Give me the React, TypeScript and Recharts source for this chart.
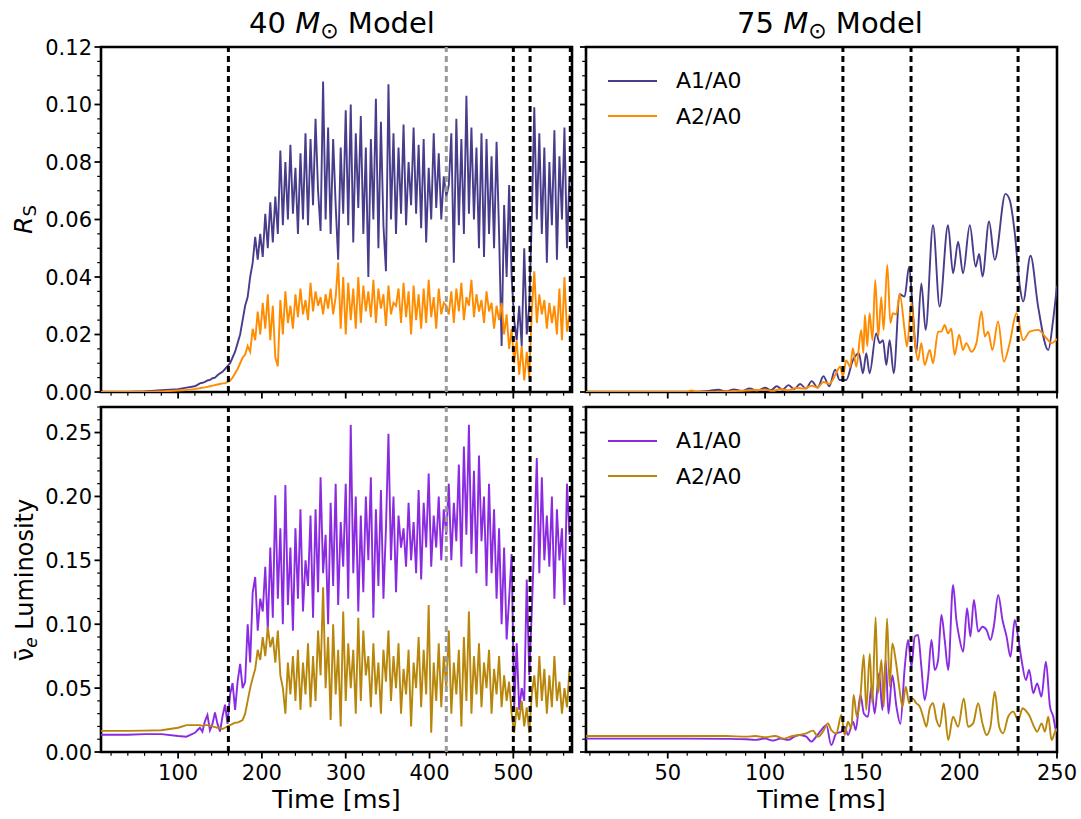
import { LineChart, Line, XAxis, YAxis, ReferenceLine, ReferenceArea, Legend } from "recharts";

const FONT = "'DejaVu Sans', sans-serif";

const BLUE = "#483D8B";
const ORANGE = "#FF8C00";
const PURPLE = "#8A2BE2";
const GOLD = "#B8860B";

// 40 Msun model: sampled at these times (ms)
const T40 = [8, 20, 40, 60, 80, 100, 110, 120, ...Array.from({ length: 149 }, (_, i) => 123 + 3 * i)];

const RS_A1_40 = [
  0, 0, 0, 0.0002, 0.0006, 0.001, 0.0015, 0.002,
  0.0025, 0.003, 0.0032, 0.0035, 0.004, 0.0042, 0.0048, 0.005, 0.0058, 0.0065,
  0.007, 0.008, 0.009, 0.010, 0.012, 0.014, 0.017, 0.020, 0.025, 0.030,
  0.033, 0.040, 0.045, 0.054, 0.046, 0.055, 0.047, 0.062, 0.050, 0.066,
  0.052, 0.068, 0.055, 0.084, 0.058, 0.080, 0.060, 0.086, 0.062, 0.078,
  0.055, 0.083, 0.060, 0.090, 0.058, 0.088, 0.065, 0.095, 0.070, 0.056,
  0.108, 0.060, 0.092, 0.055, 0.088, 0.065, 0.046, 0.085, 0.062, 0.098,
  0.058, 0.100, 0.052, 0.090, 0.064, 0.096, 0.055, 0.085, 0.040, 0.088,
  0.060, 0.102, 0.050, 0.094, 0.058, 0.042, 0.107, 0.060, 0.090, 0.055,
  0.085, 0.062, 0.093, 0.058, 0.080, 0.065, 0.092, 0.062, 0.086, 0.057,
  0.088, 0.052, 0.078, 0.060, 0.090, 0.064, 0.083, 0.060, 0.075, 0.068,
  0.072, 0.090, 0.045, 0.095, 0.058, 0.088, 0.055, 0.103, 0.062, 0.092,
  0.060, 0.085, 0.050, 0.090, 0.047, 0.088, 0.055, 0.082, 0.050, 0.087,
  0.055, 0.016, 0.065, 0.040, 0.072, 0.040, 0.025, 0.018, 0.030, 0.016,
  0.050, 0.020, 0.030, 0.060, 0.099, 0.060, 0.090, 0.055, 0.085, 0.045,
  0.080, 0.058, 0.091, 0.046, 0.082, 0.060, 0.092, 0.050, 0.075,
];

const RS_A2_40 = [
  0, 0, 0, 0, 0.0002, 0.0005, 0.0007, 0.001,
  0.0012, 0.0013, 0.0015, 0.0016, 0.0018, 0.002, 0.0022, 0.0024, 0.0026, 0.0028,
  0.003, 0.003, 0.0035, 0.004, 0.005, 0.0065, 0.008, 0.010, 0.012, 0.013,
  0.016, 0.014, 0.022, 0.018, 0.028, 0.020, 0.031, 0.022, 0.034, 0.018,
  0.030, 0.012, 0.009, 0.032, 0.020, 0.035, 0.024, 0.030, 0.022, 0.034,
  0.026, 0.036, 0.027, 0.032, 0.025, 0.038, 0.028, 0.035, 0.030, 0.033,
  0.027, 0.034, 0.029, 0.036, 0.027, 0.033, 0.045, 0.022, 0.040, 0.020,
  0.038, 0.025, 0.036, 0.022, 0.040, 0.024, 0.037, 0.028, 0.035, 0.026,
  0.039, 0.024, 0.036, 0.029, 0.034, 0.023, 0.037, 0.027, 0.031, 0.030,
  0.036, 0.024, 0.038, 0.026, 0.035, 0.020, 0.037, 0.025, 0.034, 0.022,
  0.036, 0.024, 0.039, 0.026, 0.033, 0.022, 0.036, 0.027, 0.031, 0.030,
  0.027, 0.035, 0.024, 0.036, 0.028, 0.038, 0.025, 0.033, 0.030, 0.039,
  0.026, 0.034, 0.028, 0.032, 0.024, 0.035, 0.028, 0.031, 0.022, 0.030,
  0.025, 0.031, 0.020, 0.027, 0.015, 0.022, 0.010, 0.018, 0.006, 0.016,
  0.004, 0.014, 0.005, 0.028, 0.042, 0.024, 0.034, 0.027, 0.032, 0.022,
  0.031, 0.024, 0.030, 0.020, 0.036, 0.018, 0.040, 0.021, 0.027,
];

const LUM_A1_40 = [
  0.0135, 0.0135, 0.0135, 0.014, 0.014, 0.0125, 0.012, 0.015,
  0.017, 0.019, 0.016, 0.024, 0.029, 0.017, 0.022, 0.031, 0.022, 0.016,
  0.028, 0.037, 0.022, 0.045, 0.054, 0.033, 0.055, 0.069, 0.050, 0.055,
  0.100, 0.070, 0.125, 0.137, 0.095, 0.120, 0.110, 0.145, 0.095, 0.160,
  0.105, 0.201, 0.120, 0.175, 0.100, 0.209, 0.115, 0.160, 0.095, 0.175,
  0.120, 0.190, 0.110, 0.150, 0.130, 0.185, 0.105, 0.190, 0.125, 0.215,
  0.140, 0.170, 0.100, 0.195, 0.130, 0.210, 0.115, 0.180, 0.145, 0.210,
  0.120, 0.256, 0.140, 0.200, 0.110, 0.185, 0.125, 0.200, 0.150, 0.215,
  0.105, 0.190, 0.130, 0.205, 0.120, 0.175, 0.249, 0.150, 0.200, 0.125,
  0.185, 0.160, 0.175, 0.145, 0.195, 0.150, 0.180, 0.140, 0.205, 0.135,
  0.195, 0.160, 0.218, 0.145, 0.185, 0.160, 0.200, 0.150, 0.190, 0.170,
  0.210, 0.150, 0.195, 0.165, 0.225, 0.145, 0.239, 0.170, 0.256, 0.155,
  0.220, 0.140, 0.232, 0.165, 0.200, 0.130, 0.210, 0.140, 0.190, 0.120,
  0.175, 0.100, 0.160, 0.088, 0.120, 0.155, 0.033, 0.085, 0.033, 0.050,
  0.040, 0.135, 0.060, 0.110, 0.165, 0.230, 0.140, 0.215, 0.150, 0.185,
  0.145, 0.200, 0.120, 0.190, 0.150, 0.175, 0.115, 0.210, 0.170,
];

const LUM_A2_40 = [
  0.0165, 0.0165, 0.0165, 0.0167, 0.017, 0.019, 0.021, 0.021,
  0.021, 0.021, 0.0205, 0.021, 0.021, 0.0205, 0.020, 0.0195, 0.019, 0.019,
  0.018, 0.019, 0.020, 0.021, 0.022, 0.023, 0.023, 0.024, 0.025, 0.030,
  0.040, 0.050, 0.058, 0.065, 0.080, 0.072, 0.090, 0.075, 0.098, 0.082,
  0.090, 0.070, 0.095, 0.060, 0.050, 0.030, 0.070, 0.045, 0.075, 0.040,
  0.080, 0.033, 0.070, 0.045, 0.085, 0.035, 0.075, 0.040, 0.095, 0.060,
  0.129, 0.050, 0.090, 0.025, 0.100, 0.045, 0.080, 0.020, 0.110, 0.040,
  0.085, 0.050, 0.080, 0.030, 0.105, 0.040, 0.095, 0.060, 0.075, 0.035,
  0.085, 0.045, 0.070, 0.030, 0.080, 0.055, 0.095, 0.040, 0.075, 0.050,
  0.085, 0.030, 0.065, 0.045, 0.080, 0.020, 0.070, 0.050, 0.090, 0.035,
  0.080, 0.045, 0.115, 0.015, 0.070, 0.040, 0.085, 0.035, 0.075, 0.050,
  0.095, 0.030, 0.070, 0.045, 0.080, 0.020, 0.090, 0.040, 0.110, 0.030,
  0.075, 0.045, 0.085, 0.035, 0.070, 0.050, 0.080, 0.030, 0.065, 0.045,
  0.075, 0.035, 0.060, 0.040, 0.055, 0.030, 0.015, 0.035, 0.025, 0.040,
  0.020, 0.035, 0.015, 0.045, 0.060, 0.035, 0.075, 0.040, 0.065, 0.030,
  0.060, 0.035, 0.075, 0.040, 0.055, 0.030, 0.050, 0.035, 0.065,
];

// 75 Msun model: [time ms, value]
const RS_A1_75: [number, number][] = [
  [8, 0], [60, 0], [70, 0.0003], [76, 0.0008], [80, 0.0002], [84, 0.0009], [88, 0.0003], [92, 0.0012],
  [96, 0.0004], [100, 0.0015], [103, 0.0006], [106, 0.002], [109, 0.0008], [112, 0.0024], [115, 0.001],
  [118, 0.0028], [121, 0.0012], [124, 0.0038], [127, 0.0015], [130, 0.0055], [133, 0.002], [136, 0.0078],
  [138.3, 0.0042], [141.7, 0.0042], [145.1, 0.011], [148.2, 0.0135], [150.3, 0.0065], [152, 0.0135],
  [153.7, 0.0065], [157.1, 0.0204], [158.9, 0.017], [160.6, 0.018], [162.3, 0.0094], [164, 0.018],
  [166.1, 0.0065], [169.2, 0.034], [171.7, 0.0332], [174, 0.0436], [176, 0.0274], [177.7, 0.0135],
  [180.3, 0.0378], [182.5, 0.0216], [186.3, 0.058], [189.7, 0.0297], [194, 0.058], [196.6, 0.0413],
  [199.2, 0.0523], [201.7, 0.0413], [205.2, 0.058], [208.2, 0.0436], [210, 0.048], [211.7, 0.0402],
  [215.1, 0.0593], [218, 0.046], [223.5, 0.0689], [225.7, 0.0668], [228.3, 0.0553], [230.9, 0.0367],
  [232.6, 0.0315], [236.4, 0.0474], [240.3, 0.0297], [245.5, 0.0146], [248, 0.025], [250, 0.037],
];

const RS_A2_75: [number, number][] = [
  [8, 0], [60, 0], [62, 0.0005], [66, 0], [80, 0.0002], [90, 0.0005], [100, 0.0008], [104, 0.0004],
  [108, 0.001], [112, 0.0006], [116, 0.0014], [120, 0.0012], [124, 0.0022], [127, 0.0015], [130, 0.0035],
  [133, 0.0028], [136, 0.0058], [138.6, 0.0088], [140, 0.0054], [141.7, 0.011], [143.8, 0.0088],
  [145.1, 0.0152], [146.9, 0.0088], [149.4, 0.0216], [150.5, 0.0135], [151.3, 0.0268], [152.5, 0.016],
  [153.7, 0.0274], [155.2, 0.018], [156.6, 0.039], [158.2, 0.0193], [159.7, 0.033], [160.9, 0.0216],
  [162.8, 0.0442], [164.4, 0.024], [165.7, 0.0274], [167.4, 0.027], [169.2, 0.034], [171.7, 0.0216],
  [172.9, 0.0158], [175.2, 0.031], [176.9, 0.018], [178.6, 0.011], [180.3, 0.017], [182, 0.0094],
  [184.6, 0.0146], [186.3, 0.01], [188.9, 0.021], [190.6, 0.021], [192.3, 0.0233], [194, 0.0204],
  [195.7, 0.022], [197.4, 0.0129], [199.7, 0.0199], [201.7, 0.0146], [203.4, 0.017], [206, 0.014],
  [208.6, 0.017], [211.2, 0.028], [212.9, 0.0193], [214.6, 0.021], [216.8, 0.0146], [219.7, 0.0245],
  [222.7, 0.0106], [225.7, 0.017], [229.2, 0.0274], [232.6, 0.018], [236, 0.021], [240.3, 0.0216],
  [244.6, 0.0187], [247.2, 0.017], [250, 0.0185],
];

const LUM_A1_75: [number, number][] = [
  [8, 0.0105], [60, 0.0105], [80, 0.0103], [90, 0.01], [95, 0.0095], [100, 0.0105], [104, 0.009],
  [108, 0.0105], [112, 0.0095], [115, 0.012], [117.75, 0.0133], [121.2, 0.012], [123.75, 0.0081],
  [126.3, 0.012], [128.9, 0.0172], [131.5, 0.021], [134, 0.0054], [136.6, 0.0146], [139.2, 0.0159],
  [140.9, 0.0198], [142.6, 0.0133], [145.2, 0.0237], [146.6, 0.0172], [149, 0.0446], [150.8, 0.03],
  [152.9, 0.0276], [154.6, 0.051], [156.3, 0.03], [158.6, 0.0616], [160.3, 0.0329], [162, 0.072],
  [163.4, 0.03], [165.4, 0.06], [167.5, 0.0355], [169.5, 0.022], [171.8, 0.0668], [173.5, 0.0877],
  [175.2, 0.0668], [176.9, 0.0903], [178.6, 0.0916], [180.3, 0.0668], [182, 0.0407], [183.8, 0.059],
  [185.5, 0.0877], [187.2, 0.0642], [188.9, 0.072], [190.6, 0.1072], [192.3, 0.0877], [194.1, 0.0642],
  [196.6, 0.1307], [198.3, 0.1033], [199.7, 0.0903], [201.8, 0.0785], [203.8, 0.1125], [205.5, 0.0903],
  [207.3, 0.119], [209.5, 0.0942], [211.7, 0.098], [213.8, 0.0955], [215.8, 0.0877], [217.5, 0.098],
  [219.8, 0.1229], [222, 0.1033], [224.1, 0.0903], [226.1, 0.0746], [228.3, 0.1033], [230.1, 0.089],
  [231.8, 0.072], [234, 0.0563], [235.7, 0.0642], [237.8, 0.046], [239.8, 0.0537], [242, 0.0433],
  [244.3, 0.0707], [246.4, 0.0355], [248.1, 0.0276], [249.4, 0.0172], [250, 0.016],
];

const LUM_A2_75: [number, number][] = [
  [8, 0.0125], [60, 0.0125], [80, 0.0125], [90, 0.012], [95, 0.0125], [100, 0.0115], [105, 0.0125],
  [110, 0.0105], [114, 0.0125], [117.75, 0.0133], [121.2, 0.0146], [124.6, 0.0167], [127.2, 0.012],
  [129.75, 0.0159], [132.3, 0.0224], [134, 0.0172], [136.6, 0.0146], [139.2, 0.0289], [140.9, 0.0133],
  [142.6, 0.0237], [144.3, 0.0185], [145.5, 0.0446], [147.2, 0.0276], [149, 0.0433], [150.7, 0.0759],
  [152, 0.0329], [153.8, 0.077], [155.1, 0.0381], [156.8, 0.1054], [158, 0.046], [159.8, 0.072],
  [161, 0.0355], [162.7, 0.1046], [164, 0.0512], [165.4, 0.085], [167.1, 0.072], [168.9, 0.0512],
  [170.6, 0.0355], [172.3, 0.0512], [174, 0.0381], [175.7, 0.042], [177.8, 0.0381], [179.5, 0.0355],
  [181.2, 0.0276], [182.9, 0.0198], [184.6, 0.0342], [186.3, 0.0381], [188.1, 0.025], [189.8, 0.0198],
  [191.8, 0.0381], [194.1, 0.0094], [196.6, 0.0276], [199.2, 0.0198], [202.1, 0.042], [204.3, 0.0198],
  [206.9, 0.0224], [209.5, 0.0381], [211.7, 0.0224], [213.8, 0.0133], [215.8, 0.0198], [218, 0.0472],
  [220.3, 0.0198], [222.3, 0.0146], [224.9, 0.0276], [227.5, 0.0316], [230.1, 0.025], [232.3, 0.0342],
  [234.4, 0.0316], [236.1, 0.0276], [237.8, 0.0211], [239.8, 0.0159], [242.1, 0.0224], [243.8, 0.0159],
  [245.5, 0.0276], [247.2, 0.0094], [249.4, 0.0172], [250, 0.018],
];

const EVENTS_40 = [160, 500, 520, 568];
const GRAY_40 = 420;
const EVENTS_75 = [140, 175, 230];

const X40_DOMAIN: [number, number] = [8, 570];
const X75_DOMAIN: [number, number] = [8, 250];
const RS_DOMAIN: [number, number] = [0, 0.12];
const LUM_DOMAIN: [number, number] = [0, 0.27];

function range(a: number, b: number, s: number) {
  const out: number[] = [];
  for (let i = 0; a + i * s <= b + 1e-9; i++) out.push(+(a + i * s).toFixed(4));
  return out;
}

const X40_TICKS = range(20, 560, 20);
const X75_TICKS = range(10, 250, 10);
const RS_TICKS = range(0, 0.12, 0.005);
const LUM_TICKS = range(0, 0.27, 0.01);

const rows40 = T40.map((t, i) => ({
  t,
  rs1: RS_A1_40[i],
  rs2: RS_A2_40[i],
  lum1: LUM_A1_40[i],
  lum2: LUM_A2_40[i],
}));

const pts = (arr: [number, number][]) => arr.map(([t, v]) => ({ t, v }));

const LW = 1.9;

function isMajor(v: number, step: number) {
  const r = v / step;
  return Math.abs(r - Math.round(r)) < 1e-6;
}

function makeYTick(step: number, labels: boolean) {
  return (props: any) => {
    const { x, y, payload } = props;
    const major = isMajor(payload.value, step);
    return (
      <g>
        <line x1={x} x2={x - (major ? 6.5 : 3.8)} y1={y} y2={y} stroke="#000" strokeWidth={major ? 1.8 : 1.2} />
        {major && labels && (
          <text x={x - 9} y={y} dy="0.36em" textAnchor="end" fontSize={21} fontFamily={FONT} fill="#000">
            {payload.value.toFixed(2)}
          </text>
        )}
      </g>
    );
  };
}

function makeXTick(step: number, labels: boolean) {
  return (props: any) => {
    const { x, y, payload } = props;
    const major = isMajor(payload.value, step);
    return (
      <g>
        <line x1={x} x2={x} y1={y} y2={y + (major ? 6.5 : 3.8)} stroke="#000" strokeWidth={major ? 1.8 : 1.2} />
        {major && labels && (
          <text x={x} y={y + 28} textAnchor="middle" fontSize={21} fontFamily={FONT} fill="#000">
            {payload.value}
          </text>
        )}
      </g>
    );
  };
}

const legendContent = (props: any) => (
  <div>
    {(props.payload || []).map((p: any) => (
      <div key={p.value} style={{ display: "flex", alignItems: "center", height: 35.5, fontFamily: FONT, fontSize: 22, color: "#000" }}>
        <svg width={49} height={4} style={{ marginRight: 19 }}>
          <line x1={0} x2={49} y1={2} y2={2} stroke={p.color} strokeWidth={1.8} />
        </svg>
        <span>{p.value}</span>
      </div>
    ))}
  </div>
);

const axisCommon = {
  type: "number" as const,
  allowDataOverflow: true,
  interval: 0 as const,
  tickSize: 0,
  tickMargin: 0,
  tickLine: false,
  axisLine: false,
};

const dash = { stroke: "#000", strokeWidth: 3, strokeDasharray: "6 4" };

function Frame({ x, y }: { x: [number, number]; y: [number, number] }) {
  return <ReferenceArea x1={x[0]} x2={x[1]} y1={y[0]} y2={y[1]} fill="none" stroke="#000" strokeWidth={2.6} />;
}

export default function App() {
  return (
    <div style={{ position: "absolute", left: 0, top: 0, width: 1081, height: 819, background: "#fff", fontFamily: FONT }}>
      {/* bottom left: luminosity, 40 Msun */}
      <div style={{ position: "absolute", left: 0, top: 400 }}>
        <LineChart width={580} height={419} data={rows40} margin={{ top: 7, right: 8, bottom: 0, left: 41 }}>
          <XAxis dataKey="t" {...axisCommon} domain={X40_DOMAIN} ticks={X40_TICKS} height={67} tick={makeXTick(100, true)} />
          <YAxis {...axisCommon} domain={LUM_DOMAIN} ticks={LUM_TICKS} width={60} tick={makeYTick(0.05, true)} />
          <Line dataKey="lum1" stroke={PURPLE} strokeWidth={LW} dot={false} isAnimationActive={false} />
          <Line dataKey="lum2" stroke={GOLD} strokeWidth={LW} dot={false} isAnimationActive={false} />
          <ReferenceLine x={GRAY_40} stroke="#999" strokeWidth={3} strokeDasharray="6 4" />
          {EVENTS_40.map((e) => (
            <ReferenceLine key={e} x={e} {...dash} />
          ))}
          <Frame x={X40_DOMAIN} y={LUM_DOMAIN} />
        </LineChart>
      </div>

      {/* bottom right: luminosity, 75 Msun */}
      <div style={{ position: "absolute", left: 580, top: 400 }}>
        <LineChart width={500} height={419} margin={{ top: 7, right: 23, bottom: 0, left: 0 }}>
          <XAxis dataKey="t" {...axisCommon} domain={X75_DOMAIN} ticks={X75_TICKS} height={67} tick={makeXTick(50, true)} />
          <YAxis {...axisCommon} domain={LUM_DOMAIN} ticks={LUM_TICKS} width={6} tick={makeYTick(0.05, false)} />
          <Line data={pts(LUM_A1_75)} dataKey="v" name="A1/A0" type="monotone" stroke={PURPLE} strokeWidth={LW} dot={false} isAnimationActive={false} />
          <Line data={pts(LUM_A2_75)} dataKey="v" name="A2/A0" type="monotone" stroke={GOLD} strokeWidth={LW} dot={false} isAnimationActive={false} />
          {EVENTS_75.map((e) => (
            <ReferenceLine key={e} x={e} {...dash} />
          ))}
          <Frame x={X75_DOMAIN} y={LUM_DOMAIN} />
          <Legend layout="vertical" align="center" verticalAlign="middle" wrapperStyle={{ left: 28, top: 23, width: "auto" }} content={legendContent} />
        </LineChart>
      </div>

      {/* top left: R_S, 40 Msun */}
      <div style={{ position: "absolute", left: 0, top: 0 }}>
        <LineChart width={580} height={410} data={rows40} margin={{ top: 47, right: 8, bottom: 0, left: 41 }}>
          <XAxis dataKey="t" {...axisCommon} domain={X40_DOMAIN} ticks={X40_TICKS} height={18} tick={makeXTick(100, false)} />
          <YAxis {...axisCommon} domain={RS_DOMAIN} ticks={RS_TICKS} width={60} tick={makeYTick(0.02, true)} />
          <Line dataKey="rs1" stroke={BLUE} strokeWidth={LW} dot={false} isAnimationActive={false} />
          <Line dataKey="rs2" stroke={ORANGE} strokeWidth={LW} dot={false} isAnimationActive={false} />
          <ReferenceLine x={GRAY_40} stroke="#999" strokeWidth={3} strokeDasharray="6 4" />
          {EVENTS_40.map((e) => (
            <ReferenceLine key={e} x={e} {...dash} />
          ))}
          <Frame x={X40_DOMAIN} y={RS_DOMAIN} />
        </LineChart>
      </div>

      {/* top right: R_S, 75 Msun */}
      <div style={{ position: "absolute", left: 580, top: 0 }}>
        <LineChart width={500} height={410} margin={{ top: 47, right: 23, bottom: 0, left: 0 }}>
          <XAxis dataKey="t" {...axisCommon} domain={X75_DOMAIN} ticks={X75_TICKS} height={18} tick={makeXTick(50, false)} />
          <YAxis {...axisCommon} domain={RS_DOMAIN} ticks={RS_TICKS} width={6} tick={makeYTick(0.02, false)} />
          <Line data={pts(RS_A1_75)} dataKey="v" name="A1/A0" type="monotone" stroke={BLUE} strokeWidth={LW} dot={false} isAnimationActive={false} />
          <Line data={pts(RS_A2_75)} dataKey="v" name="A2/A0" type="monotone" stroke={ORANGE} strokeWidth={LW} dot={false} isAnimationActive={false} />
          {EVENTS_75.map((e) => (
            <ReferenceLine key={e} x={e} {...dash} />
          ))}
          <Frame x={X75_DOMAIN} y={RS_DOMAIN} />
          <Legend layout="vertical" align="center" verticalAlign="middle" wrapperStyle={{ left: 28, top: 63, width: "auto" }} content={legendContent} />
        </LineChart>
      </div>

      {/* titles and axis labels */}
      <svg width={1081} height={819} style={{ position: "absolute", left: 0, top: 0, pointerEvents: "none" }}>
        <g fontFamily={FONT} fill="#000">
          <text x={342} y={33} fontSize={29} textAnchor="middle">
            40 <tspan fontStyle="italic">M</tspan>
            <tspan fontSize={22} dy={5}>⊙</tspan>
            <tspan dy={-5}> Model</tspan>
          </text>
          <text x={830} y={33} fontSize={29} textAnchor="middle">
            75 <tspan fontStyle="italic">M</tspan>
            <tspan fontSize={22} dy={5}>⊙</tspan>
            <tspan dy={-5}> Model</tspan>
          </text>
          <text x={32} y={219.5} fontSize={25} textAnchor="middle" transform="rotate(-90 32 219.5)">
            <tspan fontStyle="italic">R</tspan>
            <tspan fontSize={18} dy={4}>S</tspan>
          </text>
          <text x={33} y={580} fontSize={24} textAnchor="middle" transform="rotate(-90 33 580)">
            <tspan>ν̄</tspan>
            <tspan fontSize={17} dy={4} fontStyle="italic">e</tspan>
            <tspan dy={-4}> Luminosity</tspan>
          </text>
          <text x={336.5} y={808} fontSize={25.5} textAnchor="middle">Time [ms]</text>
          <text x={821.5} y={808} fontSize={25.5} textAnchor="middle">Time [ms]</text>
        </g>
      </svg>
    </div>
  );
}
